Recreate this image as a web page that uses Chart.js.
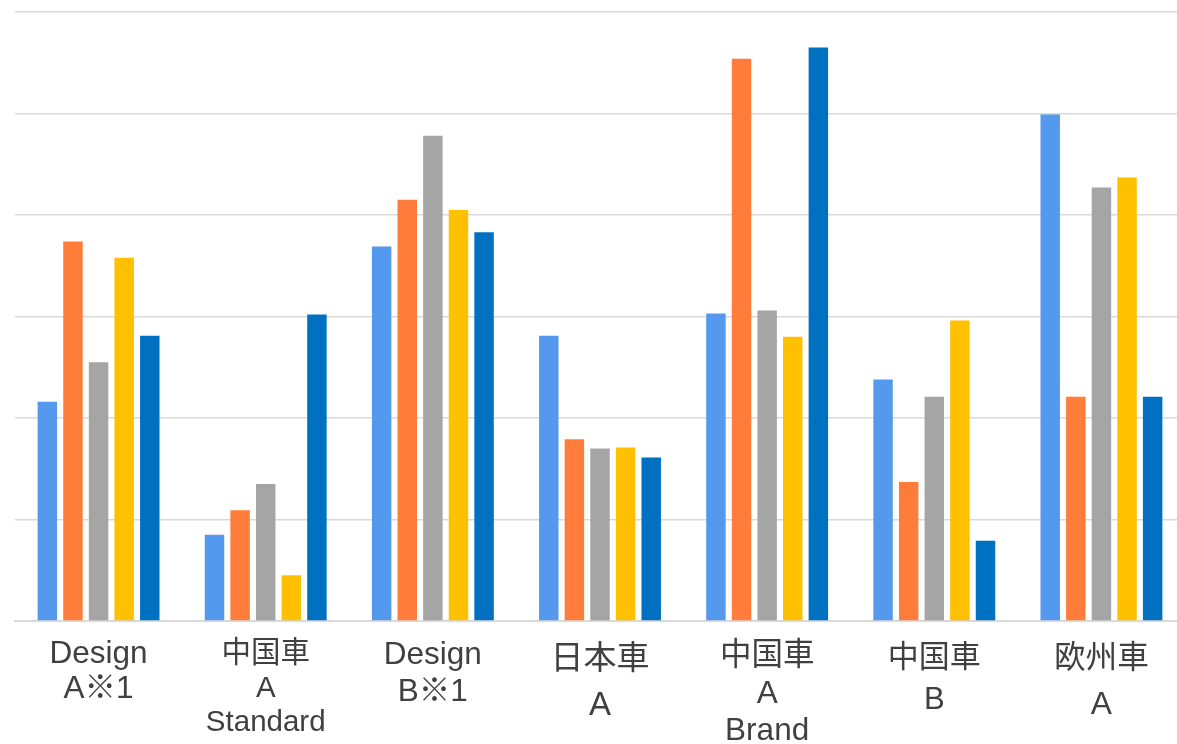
<!DOCTYPE html>
<html>
<head>
<meta charset="utf-8">
<script src="https://cdn.jsdelivr.net/npm/chart.js@4"></script>
<style>
  html, body { margin: 0; padding: 0; background: #fff; overflow: hidden; }
  #wrap { width: 1185px; height: 744px; }
</style>
</head>
<body>
<div id="wrap"><canvas id="canvas"></canvas></div>
<script>
// categories (multi-line labels)
var categories = [
    ['Design', 'A※1'],
    ['中国車', 'A', 'Standard'],
    ['Design', 'B※1'],
    ['日本車', 'A'],
    ['中国車', 'A', 'Brand'],
    ['中国車', 'B'],
    ['欧州車', 'A']
];
// per-category label size (px) and line height
var labelSizes = [31.5, 29.5, 31.5, 33, 31.5, 31, 31.7];
var labelLines = [1.117, 1.163, 1.175, 1.388, 1.203, 1.355, 1.426];

var series1 = [2.16, 0.85, 3.69, 2.81, 3.03, 2.38, 4.99];
var series2 = [3.74, 1.09, 4.15, 1.79, 5.54, 1.37, 2.21];
var series3 = [2.55, 1.35, 4.78, 1.70, 3.06, 2.21, 4.27];
var series4 = [3.58, 0.45, 4.05, 1.71, 2.80, 2.96, 4.37];
var series5 = [2.81, 3.02, 3.83, 1.61, 5.65, 0.79, 2.21];

var seriesNames = ['系列1', '系列2', '系列3', '系列4', '系列5'];
var colors = ['#5599EE', '#FF7C3A', '#A5A5A5', '#FFC000', '#0070C0'];

var allSeries = [series1, series2, series3, series4, series5];
var datasets = allSeries.map(function(vals, i){
    return {
        label: seriesNames[i],
        data: vals,
        backgroundColor: colors[i],
        borderWidth: 0,
        categoryPercentage: 0.766,
        barPercentage: 0.76
    };
});

const ctx = document.getElementById('canvas').getContext('2d');
const myChart = new Chart(ctx, {
    type: 'bar',
    data: {
        labels: categories,
        datasets: datasets
    },
    options: {
        responsive: true,
        maintainAspectRatio: false,
        animation: false,
        layout: { padding: { left: 15, top: 12, right: 0, bottom: 0 } },
        plugins: {
            legend: { display: false },
            tooltip: { enabled: false }
        },
        scales: {
            x: {
                grid: { display: false, drawTicks: false },
                border: { display: true, color: '#D9D9D9', width: 2 },
                ticks: {
                    color: '#404040',
                    padding: 16,
                    maxRotation: 0,
                    autoSkip: false,
                    font: function(c){
                        var i = c.index || 0;
                        return {
                            family: "'Liberation Sans', 'Noto Sans CJK JP', sans-serif",
                            size: labelSizes[i],
                            lineHeight: labelLines[i]
                        };
                    }
                },
                afterFit: function(scale){ scale.height = 123; }
            },
            y: {
                min: 0,
                max: 6,
                ticks: { display: false, stepSize: 1 },
                grid: { color: '#D9D9D9', lineWidth: 1.5, drawTicks: false },
                border: { display: false }
            }
        }
    }
});
</script>
</body>
</html>
